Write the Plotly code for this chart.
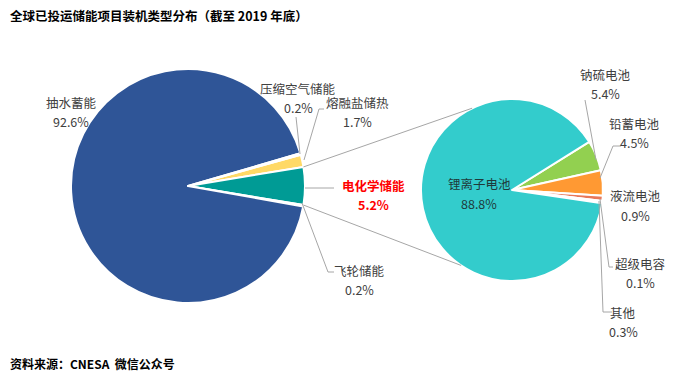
import plotly.graph_objects as go
import math

# ---------------- data ----------------
left_labels = ["熔融盐储热", "电化学储能", "飞轮储能", "抽水蓄能", "压缩空气储能"]
left_values = [1.7, 5.2, 0.2, 92.6, 0.2]

right_labels = ["钠硫电池", "铅蓄电池", "液流电池", "超级电容", "其他", "锂离子电池"]
right_values = [5.4, 4.5, 0.9, 0.1, 0.3, 88.8]

title_text = "全球已投运储能项目装机类型分布（截至 2019 年底）"
source_text = "资料来源：CNESA  微信公众号"

# ---------------- style ----------------
W, H = 699, 375
left_colors = ["#FFD966", "#009B95", "#A5A5A5", "#2F5597", "#F4B183"]
right_colors = ["#92D050", "#FF9933", "#E8785A", "#C00000", "#A5A5A5", "#33CCCC"]

# pie geometry in pixels (center x, center y, radius)
LCX, LCY, LR = 188, 186, 117
RCX, RCY, RR = 512, 190, 91


def px_x(x):
    return x / W


def px_y(y):
    return 1 - y / H


def dom(cx, cy, r):
    return dict(x=[px_x(cx - r), px_x(cx + r)], y=[px_y(cy + r), px_y(cy - r)])


# left pie: electro-chemical slice centred on 3 o'clock
lt = sum(left_values)
left_rot = 90 - (left_values[0] + left_values[1] / 2) / lt * 360
right_rot = 58

fig = go.Figure()
fig.add_trace(go.Pie(
    labels=left_labels, values=left_values, sort=False, direction="clockwise",
    rotation=left_rot, textinfo="none", hoverinfo="label+percent",
    marker=dict(colors=left_colors, line=dict(color="white", width=2)),
    domain=dom(LCX, LCY, LR), showlegend=False,
))
fig.add_trace(go.Pie(
    labels=right_labels, values=right_values, sort=False, direction="clockwise",
    rotation=right_rot, textinfo="none", hoverinfo="label+percent",
    marker=dict(colors=right_colors, line=dict(color="white", width=2)),
    domain=dom(RCX, RCY, RR), showlegend=False,
))

shapes = []
line_col = "#A6A6A6"

# connector lines between the electro-chemical slice and the right pie
half = left_values[1] / 2 / lt * 2 * math.pi
for sgn, ang_r in [(1, 116), (-1, 236)]:
    x0 = LCX + LR * math.cos(sgn * half)
    y0 = LCY - LR * math.sin(sgn * half)
    x1 = RCX + RR * math.cos(math.radians(ang_r))
    y1 = RCY - RR * math.sin(math.radians(ang_r))
    shapes.append(dict(type="line", xref="paper", yref="paper",
                       x0=px_x(x0), y0=px_y(y0), x1=px_x(x1), y1=px_y(y1),
                       line=dict(color=line_col, width=1)))

# leader lines (pixel polylines)
leaders = [
    [(300, 154), (296, 117)],                 # 压缩空气
    [(304, 160), (319, 109), (324, 109)],     # 熔融盐
    [(305, 188), (334, 188)],                 # 电化学
    [(302, 203), (328, 272), (334, 272)],     # 飞轮
    [(596, 160), (585, 100)],                 # 钠硫
    [(600, 178), (613, 146), (621, 146)],     # 铅蓄
    [(600, 199), (609, 267), (613, 267)],     # 超级电容
    [(599, 201), (603, 312), (612, 312)],     # 其他
]
for pts in leaders:
    path = "M " + " L ".join(f"{px_x(x)},{px_y(y)}" for x, y in pts)
    shapes.append(dict(type="path", xref="paper", yref="paper", path=path,
                       line=dict(color=line_col, width=1)))

FONT = "Noto Sans CJK SC"
lab_font = dict(family=FONT, size=12.5, color="#404040")
red_font = dict(family=FONT, size=12.5, color="#FF0000")
li_font = dict(family=FONT, size=12.5, color="#1F3A3A")


def fmt(v):
    return f"{v:.1f}%"


ann = []


def add_label(name, val, x, y, font=lab_font, bold=False, gap=19):
    for i, t in enumerate([name, fmt(val)]):
        txt = f"<b>{t}</b>" if bold else t
        ann.append(dict(text=txt, x=px_x(x), y=px_y(y + i * gap), xref="paper", yref="paper",
                        showarrow=False, font=font, align="center", borderpad=0,
                        xanchor="center", yanchor="middle"))


lv = dict(zip(left_labels, left_values))
rv = dict(zip(right_labels, right_values))
add_label("抽水蓄能", lv["抽水蓄能"], 71, 103)
add_label("压缩空气储能", lv["压缩空气储能"], 298, 88)
add_label("熔融盐储热", lv["熔融盐储热"], 357, 103)
add_label("电化学储能", lv["电化学储能"], 373, 185, font=red_font, bold=True)
add_label("飞轮储能", lv["飞轮储能"], 359, 270)
add_label("锂离子电池", rv["锂离子电池"], 479, 184, font=li_font)
add_label("钠硫电池", rv["钠硫电池"], 605, 75)
add_label("铅蓄电池", rv["铅蓄电池"], 634, 123)
add_label("液流电池", rv["液流电池"], 635, 196)
add_label("超级电容", rv["超级电容"], 640, 263)
add_label("其他", rv["其他"], 623, 312)

ann.append(dict(text=f"<b>{title_text}</b>", x=px_x(8), y=px_y(15), xref="paper", yref="paper",
                showarrow=False, xanchor="left", yanchor="middle",
                font=dict(family=FONT, size=12.5, color="#000000")))
ann.append(dict(text=f"<b>{source_text}</b>", x=px_x(8), y=px_y(363), xref="paper", yref="paper",
                showarrow=False, xanchor="left", yanchor="middle",
                font=dict(family=FONT, size=12, color="#000000")))

fig.update_layout(
    width=W, height=H, autosize=False,
    margin=dict(l=0, r=0, t=0, b=0),
    paper_bgcolor="white", plot_bgcolor="white",
    shapes=shapes, annotations=ann,
)

fig.write_html("out.html", config={"displayModeBar": False},
               post_script="document.body.style.margin='0';document.body.style.overflow='hidden';")
